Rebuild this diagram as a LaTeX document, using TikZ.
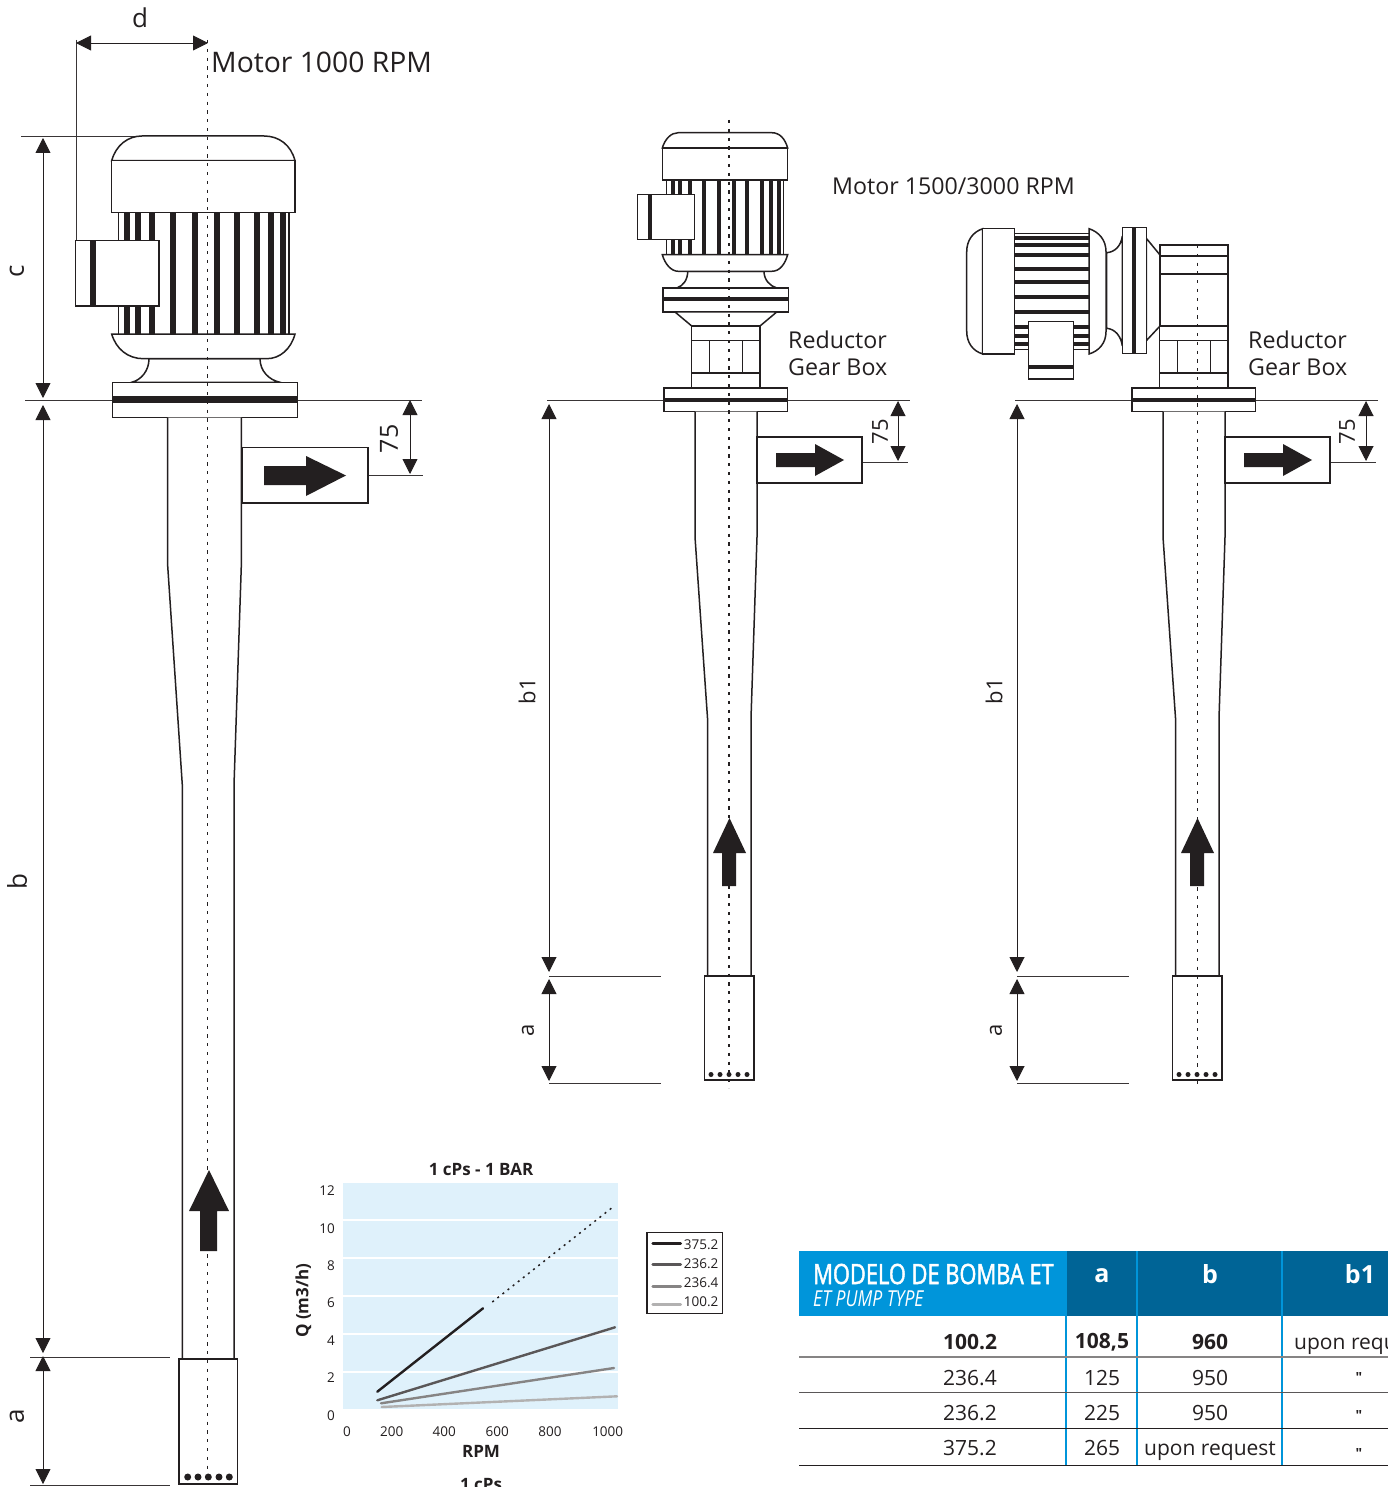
\documentclass[tikz,border=0pt]{standalone}
\usepackage{fontspec}
\setmainfont{Open Sans}
\newfontfamily\condfont[FakeStretch=0.78,FakeBold=1.6]{Open Sans}
\newfontfamily\condit[FakeStretch=0.8]{Open Sans}
\usepackage{xcolor}
\usepackage{tikz}
\usetikzlibrary{arrows.meta}
\definecolor{ink}{HTML}{231F20}
\definecolor{skyback}{HTML}{DFF1FB}
\definecolor{headlight}{HTML}{0095DA}
\definecolor{headdark}{HTML}{006496}
\newcommand{\fsize}[1]{\fontsize{#1}{#1}\selectfont}
\tikzset{
  outline/.style={draw=ink,fill=white,line width=1.5pt},
  plainline/.style={draw=ink,line width=1.5pt},
  finbar/.style={draw=ink,line width=#1},
  axisline/.style={draw=ink,line width=1.5pt,dash pattern=on 3.2pt off 5.6pt},
  extline/.style={draw=ink!90,line width=0.8pt},
  dimarrow/.style={draw=ink,line width=0.9pt,{Triangle[length=15pt,width=15pt]}-{Triangle[length=15pt,width=15pt]}},
  flowarrow/.style={fill=ink,draw=none},
  dimtext/.style={text=ink,inner sep=0pt,font=\fsize{#1}},
  rowtext/.style={text=ink,inner sep=0pt,font=\fsize{21}},
  ticktext/.style={text=ink,inner sep=0pt,font=\fsize{13.5}},
  boldtext/.style={text=ink,inner sep=0pt,font=\fsize{17}\bfseries},
  curve/.style={line width=#1,line cap=round},
}
\begin{document}
\begin{tikzpicture}[x=1pt,y=-1pt]
\clip (0,0) rectangle (1388,1487);
\fill[white] (0,0) rectangle (1388,1487);

% motor 1000 rpm
\draw[extline] (76,40) -- (76,241);
\draw[extline] (21,136.5) -- (142,136.5);
\draw[extline] (25,400) -- (112,400);
\draw[extline] (298,400) -- (422,400);
\draw[extline] (368,475.5) -- (423,475.5);
\draw[extline] (30,1357) -- (170,1357);
\draw[extline] (30,1485) -- (170,1485);
\draw[plainline] (118.3,212) -- (118.3,334) (289,212) -- (289,334);
\foreach \xb in {127,138,152,173,195,217,237,257,271,283}
  \draw[finbar=6pt] (\xb,212) -- (\xb,334);
\draw[outline] (111.7,160.7) .. controls (116,145) and (128,136) .. (142,136) -- (264,136) .. controls (279,136) and (291,145) .. (295,160.7) -- cycle;
\draw[outline] (111.7,160.7) rectangle (295,212.3);
\draw[outline] (75.7,240.7) rectangle (159,306);
\draw[finbar=6pt] (93,240.7) -- (93,306);
\draw[outline] (149,358.7) .. controls (149,371) and (141,380) .. (131.7,382.3) -- (280,382.3) .. controls (269,380) and (260,371) .. (260,358.7) -- cycle;
\draw[outline] (111.7,334) .. controls (116,349) and (128,358.7) .. (143.3,358.7) -- (266.7,358.7) .. controls (280,358.7) and (291,349) .. (295,334) -- cycle;
\draw[outline] (112.3,382.3) rectangle (297.3,417.7);
\draw[finbar=6.3pt] (112.3,399.5) -- (297.3,399.5);
\draw[outline] (167.7,417.7) -- (167.7,566) -- (182.3,785) -- (182.3,1359) -- (234,1359) -- (234,785) -- (241.3,566) -- (241.3,417.7);
\draw[outline] (179,1359) rectangle (237.7,1484);
\foreach \xd in {187.7,198,208.3,219,229.3}
  \fill[ink] (\xd,1477) circle (3.5);
\draw[outline] (242,447.5) rectangle (368,503);
\fill[flowarrow] (264,466) -- (306,466) -- (306,456) -- (346,475.5) -- (306,496) -- (306,485) -- (264,485) -- cycle;
\fill[flowarrow] (209,1170) -- (229,1211) -- (217,1211) -- (217,1251) -- (200,1251) -- (200,1211) -- (189,1211) -- cycle;
\draw[axisline] (207.5,40) -- (207.5,1484);
\draw[dimarrow] (76,43) -- (208,43);
\draw[dimarrow] (43,138) -- (43,398);
\draw[dimarrow] (43,405) -- (43,1353);
\draw[dimarrow] (43,1356) -- (43,1484);
\draw[dimarrow] (410,400) -- (410,474);
\node[dimtext=26] (labeld) at (140,18) {d};
\node[dimtext=26,rotate=90] (labelc) at (17,271) {c};
\node[dimtext=26,rotate=90] (labelb) at (17,882) {b};
\node[dimtext=26,rotate=90] (labela) at (17,1416) {a};
\node[dimtext=25,rotate=90] (labelsf) at (389,439) {75};
\node[dimtext=28.3,anchor=west] (motorone) at (211,62) {Motor 1000 RPM};

% motor 1500/3000 rpm
\draw[plainline] (666.7,180) -- (666.7,254.7) (783.3,180) -- (783.3,254.7);
\foreach \xb in {673,680,690,704,719,734,747,762,771,779}
  \draw[finbar=3.7pt] (\xb,180) -- (\xb,254.7);
\draw[outline] (662.3,148) .. controls (665,139) and (671,132.7) .. (678.3,132.7) -- (771.7,132.7) .. controls (780,132.7) and (785,139) .. (787.7,148) -- cycle;
\draw[outline] (662.3,148) rectangle (787.7,180);
\draw[outline] (637.3,194.3) rectangle (694.7,239.3);
\draw[finbar=4pt] (650,194.3) -- (650,239.3);
\draw[outline] (687.7,271.3) .. controls (687.7,280) and (683,286) .. (676.7,288) -- (776.7,288) .. controls (770,286) and (764,280) .. (764,271.3) -- cycle;
\draw[outline] (662.3,254.7) .. controls (665,264) and (671,271.3) .. (678.3,271.3) -- (771.7,271.3) .. controls (780,271.3) and (785,264) .. (787.7,254.7) -- cycle;
\draw[outline] (663,288) rectangle (788.7,312);
\draw[finbar=4.3pt] (663,299.3) -- (788.7,299.3);
\draw[outline] (675,312) -- (691.7,326) -- (760,326) -- (776.7,312) -- cycle;

% horizontal motor
\draw[plainline] (1014.3,233.3) -- (1089,233.3) (1014.3,349.3) -- (1089,349.3);
\foreach \yb in {238,244.7,254.7,268.7,281.7,296.7,311.7,326.7,336,343.7}
  \draw[finbar=4pt] (1014.3,\yb) -- (1089,\yb);
\draw[outline] (982.7,228.7) .. controls (973,232) and (966.7,240) .. (966.7,252) -- (966.7,331) .. controls (966.7,343) and (973,351) .. (982.7,354) -- cycle;
\draw[outline] (982.7,228.7) rectangle (1014.3,354);
\draw[outline] (1106.7,252.7) .. controls (1115,252) and (1121,246) .. (1122.3,236) -- (1122.3,346) .. controls (1121,336) and (1115,329) .. (1106.7,328.3) -- cycle;
\draw[outline] (1089,228.7) .. controls (1099,232) and (1106,240) .. (1106,251.7) -- (1106,331.7) .. controls (1106,343) and (1099,351) .. (1089,354) -- cycle;
\draw[outline] (1028.7,321.7) rectangle (1073.7,379);
\draw[finbar=4pt] (1028.7,366.7) -- (1073.7,366.7);
\draw[outline] (1146.3,238.3) -- (1160,255) -- (1160,326) -- (1146.3,340.7) -- cycle;
\draw[outline] (1122.3,227.7) rectangle (1146.3,353.7);
\draw[finbar=4.3pt] (1134.3,227.7) -- (1134.3,353.7);
\draw[outline] (1160,245) rectangle (1228,326);
\draw[plainline] (1160,256) -- (1228,256) (1160,274) -- (1228,274);

% pump under the gear box, twice
\foreach \dx in {0,468}{
\begin{scope}[xshift=\dx pt]
\draw[extline] (547,400) -- (664,400);
\draw[extline] (787,400) -- (910,400);
\draw[extline] (862,462) -- (908,462);
\draw[extline] (549,976) -- (661,976);
\draw[extline] (549,1083) -- (661,1083);
\draw[outline] (691.7,326) rectangle (760,387.7);
\draw[plainline] (691.7,340.7) -- (760,340.7) (691.7,373) -- (760,373);
\draw[plainline] (709.3,340.7) -- (709.3,373) (742.3,340.7) -- (742.3,373);
\draw[outline] (664,388) rectangle (787.3,411.7);
\draw[finbar=4pt] (664,400) -- (787.3,400);
\draw[outline] (695,411.7) -- (695,537) -- (707.5,718) -- (707.5,976) -- (751,976) -- (751,718) -- (757,537) -- (757,411.7);
\draw[outline] (704.5,976) rectangle (754,1080);
\foreach \xd in {711,720,729,738,747}
  \fill[ink] (\xd,1074.5) circle (2.5);
\draw[outline] (757,437) rectangle (862,483);
\fill[flowarrow] (776,453) -- (815,453) -- (815,444) -- (844,460) -- (815,476) -- (815,467) -- (776,467) -- cycle;
\fill[flowarrow] (729.5,818) -- (746,853) -- (736,853) -- (736,886) -- (722,886) -- (722,853) -- (713,853) -- cycle;
\draw[dimarrow] (549,404) -- (549,972);
\draw[dimarrow] (549,979) -- (549,1081);
\draw[dimarrow] (898,401) -- (898,461);
\end{scope}}
\draw[axisline] (729,120) -- (729,1088);
\draw[axisline] (1197.5,245) -- (1197.5,1086);
\node[dimtext=22,rotate=90] (labelbone) at (527,691) {b1};
\node[dimtext=22,rotate=90] (labelaone) at (528,1030) {a};
\node[dimtext=22,rotate=90] (labelsfone) at (880,432) {75};
\node[dimtext=22,rotate=90] (labelbtwo) at (994,691) {b1};
\node[dimtext=22,rotate=90] (labelatwo) at (996,1030) {a};
\node[dimtext=22,rotate=90] (labelsftwo) at (1347,432) {75};
\node[dimtext=23.2,anchor=west] (motortwo) at (832,186) {Motor 1500/3000 RPM};
\node[dimtext=23.2,anchor=west] (gearone) at (788,340) {Reductor};
\node[dimtext=23.2,anchor=west] (gearonb) at (788,367) {Gear Box};
\node[dimtext=23.2,anchor=west] (geartwo) at (1248,340) {Reductor};
\node[dimtext=23.2,anchor=west] (geartwb) at (1248,367) {Gear Box};

% chart
\fill[skyback] (343,1182.7) rectangle (618,1408.7);
\foreach \yl in {1220,1258,1296,1334,1372}
  \draw[white,line width=1.5pt] (343,\yl) -- (618,\yl);
\foreach \yv/\yp in {12/1191,10/1229,8/1266,6/1303,4/1341,2/1378,0/1416}
  \node[ticktext,anchor=east] (ytick\yv) at (335,\yp) {\yv};
\foreach \xv/\xp in {0/347,200/391.7,400/444.3,600/497.3,800/550,1000/607.7}
  \node[ticktext] (xtick\xv) at (\xp,1431.7) {\xv};
\draw[curve=2.4pt,ink] (377.3,1391.7) -- (483,1308.3);
\draw[ink,line width=1.5pt,dash pattern=on 2pt off 4.5pt] (492.3,1302) -- (613.3,1206.7);
\draw[curve=2.4pt,color=ink!75] (377.3,1400.3) -- (615,1327.3);
\draw[curve=2.4pt,color=ink!55] (381,1403.3) -- (614,1368);
\draw[curve=2.4pt,color=ink!35] (381.7,1407) -- (617,1396.3);
\node[boldtext] (charttitle) at (481,1169) {1 cPs - 1 BAR};
\node[boldtext] (chartrpm) at (481,1451) {RPM};
\node[boldtext,rotate=90] (chartq) at (303.3,1300.7) {Q (m3/h)};
\node[boldtext,anchor=north] (chartnext) at (481,1478) {1 cPs};
\draw[plainline] (647,1232.7) rectangle (722.7,1313.3);
\draw[curve=2.6pt,ink] (652.7,1243.7) -- (680.7,1243.7);
\draw[curve=2.6pt,color=ink!75] (652.7,1264.3) -- (680.7,1264.3);
\draw[curve=2.6pt,color=ink!55] (652.7,1286.3) -- (680.7,1286.3);
\draw[curve=2.6pt,color=ink!35] (652.7,1304.3) -- (680.7,1304.3);
\foreach \lt/\lp in {375.2/1244.3,236.2/1263.3,236.4/1282.3,100.2/1301.3}
  \node[ticktext,anchor=east] (legend\lp) at (718.5,\lp) {\lt};

% table
\fill[headlight] (799,1251) rectangle (1066,1316);
\fill[headdark] (1066,1251) rectangle (1388,1316);
\foreach \xs in {1066,1137,1282}
  \draw[headlight,line width=1.8pt] (\xs,1251) -- (\xs,1465.5);
\draw[ink!55,line width=1.5pt] (799,1357) -- (1388,1357);
\draw[ink!75,line width=1.1pt] (799,1392.5) -- (1388,1392.5);
\draw[ink,line width=1.1pt] (799,1428.5) -- (1388,1428.5);
\draw[ink,line width=1.1pt] (799,1465.5) -- (1388,1465.5);
\node[text=white,inner sep=0pt,anchor=west,font=\condfont\fsize{28}] (headmodel) at (813,1274) {MODELO DE BOMBA ET};
\node[text=white,inner sep=0pt,anchor=west,font=\condit\itshape\fsize{22}] (headtype) at (813,1299) {ET PUMP TYPE};
\foreach \hlab/\hx/\hy in {a/1102/1276,b/1210/1274,b1/1360/1274}
  \node[text=white,inner sep=0pt,font=\fsize{25}\bfseries] (head\hlab) at (\hx,\hy) {\hlab};
\node[rowtext,font=\fsize{21}\bfseries] (rowaname) at (970,1342) {100.2};
\node[rowtext,font=\fsize{21}\bfseries] (rowaa) at (1102,1342) {108,5};
\node[rowtext,font=\fsize{21}\bfseries] (rowab) at (1210,1342) {960};
\node[rowtext,anchor=west] (rowac) at (1294,1345) {upon request};
\node[rowtext] (rowbname) at (970,1378) {236.4};
\node[rowtext] (rowba) at (1102,1378) {125};
\node[rowtext] (rowbb) at (1210,1378) {950};
\node[rowtext,font=\fsize{14}\bfseries] (rowbc) at (1359,1377) {\textquotedbl};
\node[rowtext] (rowcname) at (970,1413) {236.2};
\node[rowtext] (rowca) at (1102,1413) {225};
\node[rowtext] (rowcb) at (1210,1413) {950};
\node[rowtext,font=\fsize{14}\bfseries] (rowcc) at (1359,1415) {\textquotedbl};
\node[rowtext] (rowdname) at (970,1448) {375.2};
\node[rowtext] (rowda) at (1102,1448) {265};
\node[rowtext] (rowdb) at (1210,1451) {upon request};
\node[rowtext,font=\fsize{14}\bfseries] (rowdc) at (1359,1453) {\textquotedbl};
\end{tikzpicture}
\end{document}
